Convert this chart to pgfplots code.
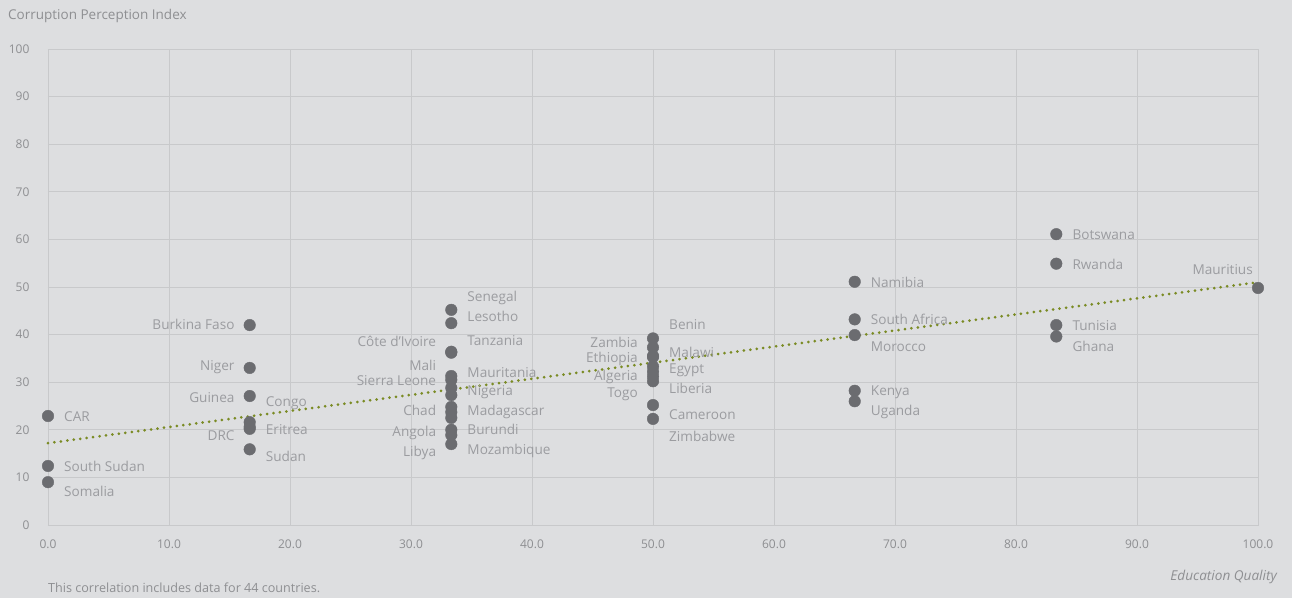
\documentclass[border=0pt]{standalone}
\usepackage{pgfplots}
\pgfplotsset{compat=1.18}
\usepackage{fontspec}
\setmainfont{Open Sans}
\definecolor{bg}{HTML}{DDDEE0}
\definecolor{gridc}{HTML}{C8C9CB}
\definecolor{dotc}{HTML}{6B6C70}
\definecolor{lblc}{HTML}{9B9CA0}
\definecolor{tickc}{HTML}{8E8F92}
\definecolor{trend}{HTML}{7A8B24}
\begin{document}
\begin{tikzpicture}[
  lbl/.style={font=\fontsize{13.6}{15}\selectfont, text=lblc, inner sep=0pt},
  R/.style={lbl, anchor=west, xshift=16pt},
  L/.style={lbl, anchor=east, xshift=-15pt}]
\fill[bg] (-48pt,-73pt) rectangle (1244pt,525pt);
\begin{axis}[
  scale only axis, width=1210pt, height=476pt,
  xmin=0, xmax=100, ymin=0, ymax=100,
  xtick={0,10,...,100}, ytick={0,10,...,100},
  grid=major, major grid style={gridc, line width=0.9pt},
  axis line style={gridc, line width=0.9pt},
  major tick length=0pt,
  clip=false,
  /pgf/number format/assume math mode=true,
  xticklabel style={font=\fontsize{12}{13}\selectfont, text=tickc, yshift=-11pt,
    /pgf/number format/.cd, fixed, fixed zerofill, precision=1},
  yticklabel style={font=\fontsize{12}{13}\selectfont, text=tickc, xshift=-15pt},
  ]
\addplot[trend, line width=3pt, dash pattern=on 0pt off 6.5pt, line cap=round] coordinates {(0,17.2) (100,51.0)};
\addplot[only marks, mark=*, mark size=5.8pt, color=dotc] table {
x y
0 22.9
0 12.4
0 9.0
16.67 42.0
16.67 33.0
16.67 27.1
16.67 21.6
16.67 20.2
16.67 20.6
16.67 15.9
33.33 45.2
33.33 42.4
33.33 36.2
33.33 36.4
33.33 31.3
33.33 30.5
33.33 28.8
33.33 27.3
33.33 24.8
33.33 23.7
33.33 22.5
33.33 20.0
33.33 18.9
33.33 17.0
50 39.2
50 37.3
50 35.5
50 35.3
50 33.3
50 32.2
50 31.2
50 30.2
50 25.2
50 22.3
66.67 51.1
66.67 43.2
66.67 39.9
66.67 28.2
66.67 26.0
83.33 61.1
83.33 54.9
83.33 42.0
83.33 39.6
100 49.8
};
% labels
\node[R] at (axis cs:0,22.8) {CAR};
\node[R] at (axis cs:0,12.4) {South Sudan};
\node[R] at (axis cs:0,7.0) {Somalia};
\node[L] at (axis cs:16.67,42.2) {Burkina Faso};
\node[L] at (axis cs:16.67,33.1) {Niger};
\node[L] at (axis cs:16.67,26.8) {Guinea};
\node[R] at (axis cs:16.67,25.6) {Congo};
\node[R] at (axis cs:16.67,20.1) {Eritrea};
\node[L] at (axis cs:16.67,18.7) {DRC};
\node[R] at (axis cs:16.67,14.5) {Sudan};
\node[R] at (axis cs:33.33,47.7) {Senegal};
\node[R] at (axis cs:33.33,43.8) {Lesotho};
\node[R] at (axis cs:33.33,38.7) {Tanzania};
\node[L] at (axis cs:33.33,38.5) {Côte d’Ivoire};
\node[L] at (axis cs:33.33,33.5) {Mali};
\node[R] at (axis cs:33.33,32.0) {Mauritania};
\node[L] at (axis cs:33.33,30.3) {Sierra Leone};
\node[R] at (axis cs:33.33,28.0) {Nigeria};
\node[L] at (axis cs:33.33,24.0) {Chad};
\node[R] at (axis cs:33.33,23.7) {Madagascar};
\node[R] at (axis cs:33.33,20.0) {Burundi};
\node[L] at (axis cs:33.33,19.3) {Angola};
\node[L] at (axis cs:33.33,15.1) {Libya};
\node[R] at (axis cs:33.33,15.5) {Mozambique};
\node[R] at (axis cs:50,42.2) {Benin};
\node[L] at (axis cs:50,38.4) {Zambia};
\node[R] at (axis cs:50,36.3) {Malawi};
\node[L] at (axis cs:50,34.9) {Ethiopia};
\node[R] at (axis cs:50,32.6) {Egypt};
\node[L] at (axis cs:50,31.0) {Algeria};
\node[R] at (axis cs:50,28.7) {Liberia};
\node[L] at (axis cs:50,27.5) {Togo};
\node[R] at (axis cs:50,23.1) {Cameroon};
\node[R] at (axis cs:50,18.7) {Zimbabwe};
\node[R] at (axis cs:66.67,50.9) {Namibia};
\node[R] at (axis cs:66.67,43.1) {South Africa};
\node[R] at (axis cs:66.67,37.5) {Morocco};
\node[R] at (axis cs:66.67,27.8) {Kenya};
\node[R] at (axis cs:66.67,23.7) {Uganda};
\node[R] at (axis cs:83.33,60.9) {Botswana};
\node[R] at (axis cs:83.33,54.8) {Rwanda};
\node[R] at (axis cs:83.33,42.0) {Tunisia};
\node[R] at (axis cs:83.33,37.6) {Ghana};
\node[lbl, anchor=east, xshift=-5pt] at (axis cs:100,53.6) {Mauritius};
\end{axis}
\node[font=\fontsize{13.5}{15}\selectfont, text=tickc, anchor=west, inner sep=0pt] at (-40pt,509pt) {Corruption Perception Index};
\node[font=\fontsize{12.6}{14}\selectfont, text=tickc, anchor=west, inner sep=0pt] at (0pt,-63pt) {This correlation includes data for 44 countries.};
\node[font=\fontsize{13.6}{15}\selectfont\itshape, text=tickc, anchor=east, inner sep=0pt] at (1229pt,-52pt) {Education Quality};
\end{tikzpicture}
\end{document}
